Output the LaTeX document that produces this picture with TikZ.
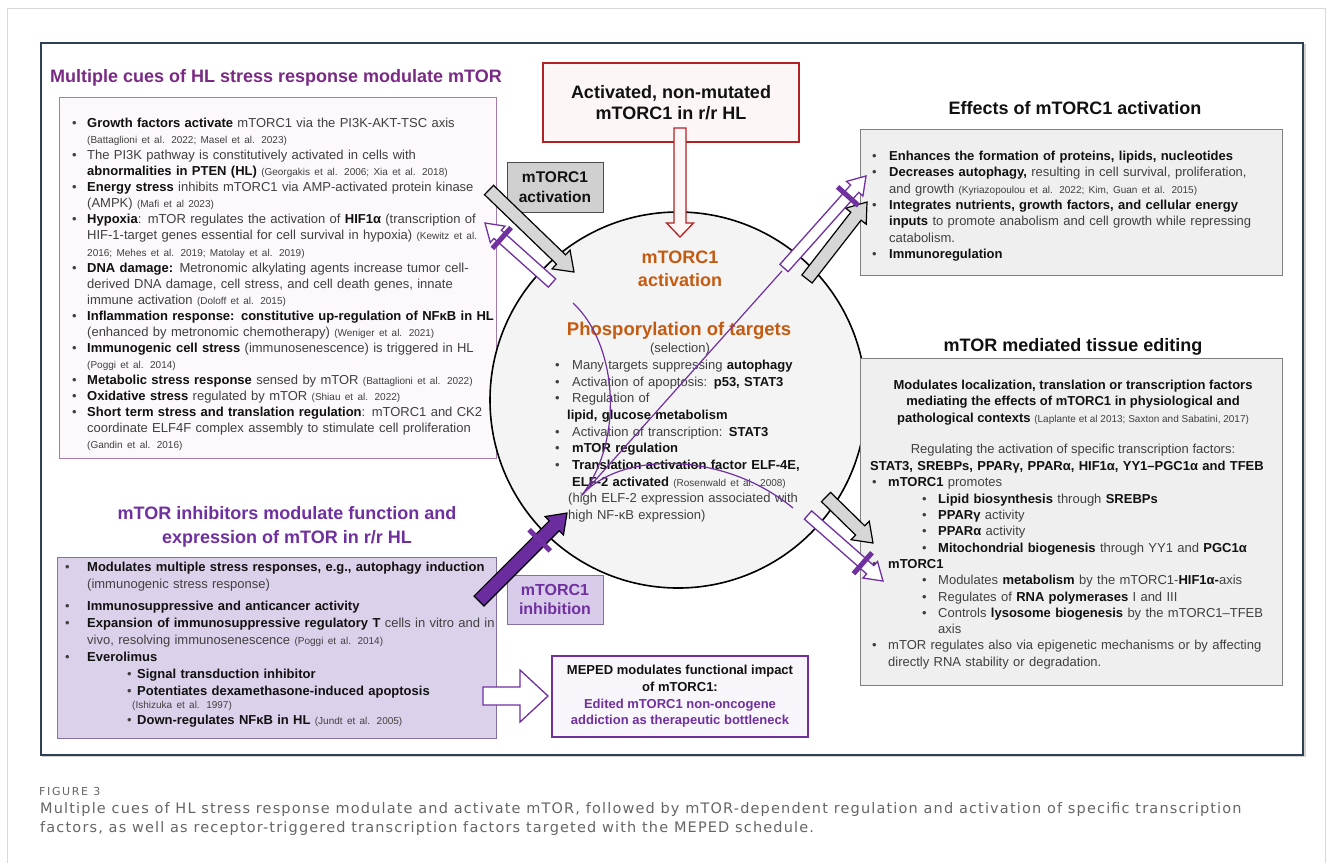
\documentclass[tikz,border=0pt]{standalone}
\usepackage{fontspec}
\setmainfont{Liberation Sans}
\newfontfamily\capfont[LetterSpace=8]{DejaVu Sans}
\newfontfamily\figfont[LetterSpace=15]{DejaVu Sans}
\usetikzlibrary{calc}
\definecolor{purp}{HTML}{7030A0}
\definecolor{magp}{HTML}{7A2A85}
\definecolor{orng}{HTML}{C55A11}
\definecolor{tgray}{HTML}{404040}
\definecolor{tdark}{HTML}{111111}
\definecolor{framec}{HTML}{2E4053}
\definecolor{cuesfill}{HTML}{FCF8FB}
\definecolor{cuesdraw}{HTML}{A77BAE}
\definecolor{inhfill}{HTML}{DCD1EA}
\definecolor{inhdraw}{HTML}{85709F}
\definecolor{lbfill}{HTML}{D9CBEA}
\definecolor{boxgray}{HTML}{EFEFEF}
\definecolor{boxdraw}{HTML}{808080}
\definecolor{actfill}{HTML}{D0D0D0}
\definecolor{redc}{HTML}{B22222}
\definecolor{redfill}{HTML}{FDF6F6}
\definecolor{circfill}{HTML}{F4F4F4}
\definecolor{arrgray}{HTML}{D6D6D6}
\definecolor{thickp}{HTML}{6A2C9E}
\definecolor{capc}{HTML}{666666}
\definecolor{mepfill}{HTML}{F8F5FB}

\newcommand{\bb}[1]{{\bfseries\color{tdark}#1}}
\newcommand{\cit}[1]{{\fontsize{10}{10}\selectfont #1}}
\newcommand{\bul}[1]{\makebox[#1][l]{\textbullet}}
\newcommand{\hsp}[1]{\hspace*{#1}}
\newcommand{\blockarrow}[7]{% name, style, from, to, half shaft, half head, head length
  \coordinate (#1h) at ($(#4)!#7!(#3)$);
  \path[#2] ($(#3)!#5!90:(#4)$) -- ($(#1h)!#5!90:(#4)$) -- ($(#1h)!#6!90:(#4)$) -- (#4)
    -- ($(#1h)!#6!-90:(#4)$) -- ($(#1h)!#5!-90:(#4)$) -- ($(#3)!#5!-90:(#4)$) -- cycle;}
\newcommand{\crossbar}[5]{% name, from, to, position, half length
  \coordinate (#1c) at ($(#2)!#4!(#3)$);
  \draw[inhbar] ($(#1c)!#5!90:(#3)$) -- ($(#1c)!#5!-90:(#3)$);}

\tikzset{
  grayarr/.style={fill=arrgray, draw=black, line width=1.2pt, line join=miter},
  purparr/.style={fill=white, draw=purp, line width=1.3pt},
  thickarr/.style={fill=thickp, draw=black, line width=1.2pt},
  redarr/.style={fill=redfill, draw=redc, line width=1.3pt},
  inhbar/.style={draw=purp, line width=5pt},
  thinp/.style={draw=purp, line width=1.2pt},
  bodytxt/.style={font=\fontsize{13}{16.3}\selectfont, text=tgray, align=left, inner sep=0pt, anchor=north west},
  ttl/.style={font=\bfseries\fontsize{18}{24}\selectfont, inner sep=0pt},
  panel/.style={anchor=north west, inner sep=0pt, line width=1pt},
  captxt/.style={font=\capfont\fontsize{14.5}{17}\selectfont, text=capc, anchor=base west, inner sep=0pt},
}

\begin{document}
\begin{tikzpicture}[x=1pt,y=-1pt]
\fill[white] (0,0) rectangle (1329,863);
\useasboundingbox (0,0) rectangle (1329,863);
\draw[black!15, line width=1pt] (7,863) -- (7,8) -- (1325,8) -- (1325,863);

% frame
\draw[black!18, line width=2pt] (43,45) rectangle (1305,756);
\node[draw=framec, fill=white, line width=1.8pt, minimum width=1262, minimum height=712, anchor=north west, inner sep=0] (frame) at (40,42) {};

% top-left panel
\node[ttl, text=magp, anchor=base] (t1) at (276,82.5) {Multiple cues of HL stress response modulate mTOR};
\node[panel, draw=cuesdraw, fill=cuesfill, minimum width=437, minimum height=361] (cuesbox) at (59,97) {};
\node[bodytxt, text width=425, font=\fontsize{13}{16.05}\selectfont] (cuestxt) at (72,118) {%
\bul{15pt}\bb{Growth factors activate} mTORC1 via the PI3K-AKT-TSC axis\\
\hsp{15pt}\cit{(Battaglioni et al. 2022; Masel et al. 2023)}\\
\bul{15pt}The PI3K pathway is constitutively activated in cells with\\
\hsp{15pt}\bb{abnormalities in PTEN (HL)} \cit{(Georgakis et al. 2006; Xia et al. 2018)}\\
\bul{15pt}\bb{Energy stress} inhibits mTORC1 via AMP-activated protein kinase\\
\hsp{15pt}(AMPK) \cit{(Mafi et al 2023)}\\
\bul{15pt}\bb{Hypoxia}: mTOR regulates the activation of \bb{HIF1α} (transcription of\\
\hsp{15pt}HIF-1-target genes essential for cell survival in hypoxia) \cit{(Kewitz et al.}\\
\hsp{15pt}\cit{2016; Mehes et al. 2019; Matolay et al. 2019)}\\
\bul{15pt}\bb{DNA damage:} Metronomic alkylating agents increase tumor cell-\\
\hsp{15pt}derived DNA damage, cell stress, and cell death genes, innate\\
\hsp{15pt}immune activation \cit{(Doloff et al. 2015)}\\
\bul{15pt}\bb{Inflammation response: constitutive up-regulation of NFκB in HL}\\
\hsp{15pt}(enhanced by metronomic chemotherapy) \cit{(Weniger et al. 2021)}\\
\bul{15pt}\bb{Immunogenic cell stress} (immunosenescence) is triggered in HL\\
\hsp{15pt}\cit{(Poggi et al. 2014)}\\
\bul{15pt}\bb{Metabolic stress response} sensed by mTOR \cit{(Battaglioni et al. 2022)}\\
\bul{15pt}\bb{Oxidative stress} regulated by mTOR \cit{(Shiau et al. 2022)}\\
\bul{15pt}\bb{Short term stress and translation regulation}: mTORC1 and CK2\\
\hsp{15pt}coordinate ELF4F complex assembly to stimulate cell proliferation\\
\hsp{15pt}\cit{(Gandin et al. 2016)}};

% red box
\node[draw=redc, fill=redfill, line width=1.5pt, minimum width=256, minimum height=79, inner sep=0, font=\bfseries\fontsize{18}{21}\selectfont, align=center, text=tdark] (redbox) at (671,102.5) {Activated, non-mutated\\mTORC1 in r/r HL};

% central circle
\node[circle, draw=black, line width=1.6pt, fill=circfill, minimum size=376, inner sep=0] (core) at (678,400) {};
\node[font=\bfseries\fontsize{18}{23}\selectfont, text=orng, align=center, inner sep=0] (acttxt) at (680,268.5) {mTORC1\\activation};
\node[font=\bfseries\fontsize{18.5}{20}\selectfont, text=orng, anchor=base, inner sep=0] (phos) at (679,335) {Phosporylation of targets};
\node[font=\fontsize{13}{15}\selectfont, text=tgray, anchor=base, inner sep=0] (sel) at (680,352.5) {(selection)};
\node[bodytxt, text width=270, font=\fontsize{13}{16.67}\selectfont] (phostxt) at (555,360) {%
\bul{17pt}Many targets suppressing \bb{autophagy}\\
\bul{17pt}Activation of apoptosis: \bb{p53, STAT3}\\
\bul{17pt}Regulation of\\
\hsp{12pt}\bb{lipid, glucose metabolism}\\
\bul{17pt}Activation of transcription: \bb{STAT3}\\
\bul{17pt}\bb{mTOR regulation}\\
\bul{17pt}\bb{Translation activation factor ELF-4E,}\\
\hsp{17pt}\bb{ELF-2 activated} \cit{(Rosenwald et al. 2008)}\\
\hsp{13pt}(high ELF-2 expression associated with\\
\hsp{13pt}high NF-κB expression)};

% small label boxes
\node[draw=black!70, fill=actfill, line width=1pt, minimum width=96, minimum height=50, inner sep=0, align=center, font=\bfseries\fontsize{15.5}{20}\selectfont, text=tdark] (actbox) at (555,187) {mTORC1\\activation};
\node[draw=inhdraw, fill=lbfill, line width=1pt, minimum width=96, minimum height=49, inner sep=0, align=center, font=\bfseries\fontsize{16}{19}\selectfont, text=purp] (inhbox) at (555,599.5) {mTORC1\\inhibition};

% bottom-left panel
\node[ttl, text=purp, align=center] (t2) at (287,527) {mTOR inhibitors modulate function and\\expression of mTOR in r/r HL};
\node[panel, draw=inhdraw, fill=inhfill, minimum width=439, minimum height=181] (inhlist) at (57,557) {};
\node[bodytxt, text width=450, font=\fontsize{13}{17}\selectfont] (inhtxt) at (65,562) {%
\bul{22pt}\bb{Modulates multiple stress responses, e.g., autophagy induction}\\
\hsp{22pt}(immunogenic stress response)\\[5pt]
\bul{22pt}\bb{Immunosuppressive and anticancer activity}\\
\bul{22pt}\bb{Expansion of immunosuppressive regulatory T} cells in vitro and in\\
\hsp{22pt}vivo, resolving immunosenescence \cit{(Poggi et al. 2014)}\\
\bul{22pt}\bb{Everolimus}\\
\hsp{62pt}\bul{10pt}\bb{Signal transduction inhibitor}\\
\hsp{62pt}\bul{10pt}\bb{Potentiates dexamethasone-induced apoptosis}\\[-4pt]
\hsp{67pt}\cit{(Ishizuka et al. 1997)}\\[-1pt]
\hsp{62pt}\bul{10pt}\bb{Down-regulates NFκB in HL} \cit{(Jundt et al. 2005)}};

% MEPED box
\node[draw=purp, fill=mepfill, line width=1.8pt, minimum width=256, minimum height=81, inner sep=0, align=center, font=\bfseries\fontsize{13}{16.7}\selectfont, text=tdark] (meped) at (680,696.5) {MEPED modulates functional impact\\of mTORC1:\\\textcolor{purp}{Edited mTORC1 non-oncogene}\\\textcolor{purp}{addiction as therapeutic bottleneck}};

% effects panel
\node[ttl, text=tdark, anchor=base] (t3) at (1075,114.5) {Effects of mTORC1 activation};
\node[panel, draw=boxdraw, fill=boxgray, line width=1.2pt, minimum width=422, minimum height=146] (effbox) at (860,129) {};
\node[bodytxt, text width=405] (efftxt) at (872,151) {%
\bul{17pt}\bb{Enhances the formation of proteins, lipids, nucleotides}\\
\bul{17pt}\bb{Decreases autophagy,} resulting in cell survival, proliferation,\\
\hsp{17pt}and growth \cit{(Kyriazopoulou et al. 2022; Kim, Guan et al. 2015)}\\
\bul{17pt}\bb{Integrates nutrients, growth factors, and cellular energy}\\
\hsp{17pt}\bb{inputs} to promote anabolism and cell growth while repressing\\
\hsp{17pt}catabolism.\\
\bul{17pt}\bb{Immunoregulation}};

% tissue editing panel
\node[ttl, text=tdark, anchor=base] (t4) at (1073,351.5) {mTOR mediated tissue editing};
\node[panel, draw=boxdraw, fill=boxgray, line width=1.2pt, minimum width=422, minimum height=327] (tissbox) at (860,358) {};
\node[font=\fontsize{13}{16.3}\selectfont, text=tgray, align=center, anchor=north, inner sep=0] (tisshead) at (1073,380) {\bb{Modulates localization, translation or transcription factors}\\\bb{mediating the effects of mTORC1 in physiological and}\\\bb{pathological contexts} \cit{(Laplante et al 2013; Saxton and Sabatini, 2017)}\\[15pt]Regulating the activation of specific transcription factors:};
\node[bodytxt, text width=410] (tissbody) at (870,461) {%
\bb{STAT3, SREBPs, PPARγ, PPARα, HIF1α, YY1–PGC1α and TFEB}\\
\hsp{2pt}\bul{16pt}\bb{mTORC1} promotes\\
\hsp{52pt}\bul{16pt}\bb{Lipid biosynthesis} through \bb{SREBPs}\\
\hsp{52pt}\bul{16pt}\bb{PPARγ} activity\\
\hsp{52pt}\bul{16pt}\bb{PPARα} activity\\
\hsp{52pt}\bul{16pt}\bb{Mitochondrial biogenesis} through YY1 and \bb{PGC1α}\\
\hsp{2pt}\bul{16pt}\bb{mTORC1}\\
\hsp{52pt}\bul{16pt}Modulates \bb{metabolism} by the mTORC1-\bb{HIF1α-}axis\\
\hsp{52pt}\bul{16pt}Regulates of \bb{RNA polymerases} I and III\\
\hsp{52pt}\bul{16pt}Controls \bb{lysosome biogenesis} by the mTORC1–TFEB\\
\hsp{68pt}axis\\
\hsp{2pt}\bul{16pt}mTOR regulates also via epigenetic mechanisms or by affecting\\
\hsp{18pt}directly RNA stability or degradation.};

% thin purple inhibition lines inside the circle
\coordinate (hub) at (582,495);
\coordinate (lnA) at (573,303);
\coordinate (lnB) at (782,271);
\coordinate (lnC) at (793,508);
\draw[thinp] (lnA) .. controls (618,345) and (624,440) .. (hub);
\draw[thinp] (hub) -- (lnB);
\draw[thinp] (hub) .. controls (620,452) and (722,450) .. (lnC);

% connectors (block arrows)
\coordinate (redtail) at (680,128);
\coordinate (redtip) at (680,237);
\blockarrow{r}{redarr}{redtail}{redtip}{6pt}{13.5pt}{14pt}

\coordinate (a1s) at (489,190); \coordinate (a1e) at (574,272);
\blockarrow{a1}{grayarr}{a1s}{a1e}{6.5pt}{13pt}{18pt}
\coordinate (p1s) at (552,283); \coordinate (p1e) at (485,223);
\blockarrow{p1}{purparr}{p1s}{p1e}{5.5pt}{11pt}{17pt}
\crossbar{p1}{p1s}{p1e}{0.75}{14pt}

\coordinate (a2s) at (807,279); \coordinate (a2e) at (867,202);
\blockarrow{a2}{grayarr}{a2s}{a2e}{6.5pt}{13pt}{18pt}
\coordinate (p2s) at (784,268); \coordinate (p2e) at (866,176);
\blockarrow{p2}{purparr}{p2s}{p2e}{5.5pt}{11pt}{17pt}
\crossbar{p2}{p2s}{p2e}{0.78}{14pt}

\coordinate (a3s) at (826,497); \coordinate (a3e) at (873,543);
\blockarrow{a3}{grayarr}{a3s}{a3e}{6.5pt}{13pt}{18pt}
\coordinate (p3s) at (808,515); \coordinate (p3e) at (883,581);
\blockarrow{p3}{purparr}{p3s}{p3e}{5.5pt}{11pt}{17pt}
\crossbar{p3}{p3s}{p3e}{0.73}{14pt}

\coordinate (p4s) at (479,601); \coordinate (p4e) at (567,513);
\blockarrow{p4}{thickarr}{p4s}{p4e}{7pt}{13pt}{18pt}
\crossbar{p4}{p4s}{p4e}{0.69}{15pt}

\coordinate (p5s) at (483,696); \coordinate (p5e) at (548,696);
\blockarrow{p5}{purparr}{p5s}{p5e}{9pt}{26pt}{28pt}

% caption
\node[captxt, font=\figfont\fontsize{11}{13}\selectfont] (figlbl) at (39,795) {FIGURE 3};
\node[captxt] (cap1) at (40,813.5) {Multiple cues of HL stress response modulate and activate mTOR, followed by mTOR-dependent regulation and activation of specific transcription};
\node[captxt] (cap2) at (40,832.5) {factors, as well as receptor-triggered transcription factors targeted with the MEPED schedule.};
\end{tikzpicture}
\end{document}
